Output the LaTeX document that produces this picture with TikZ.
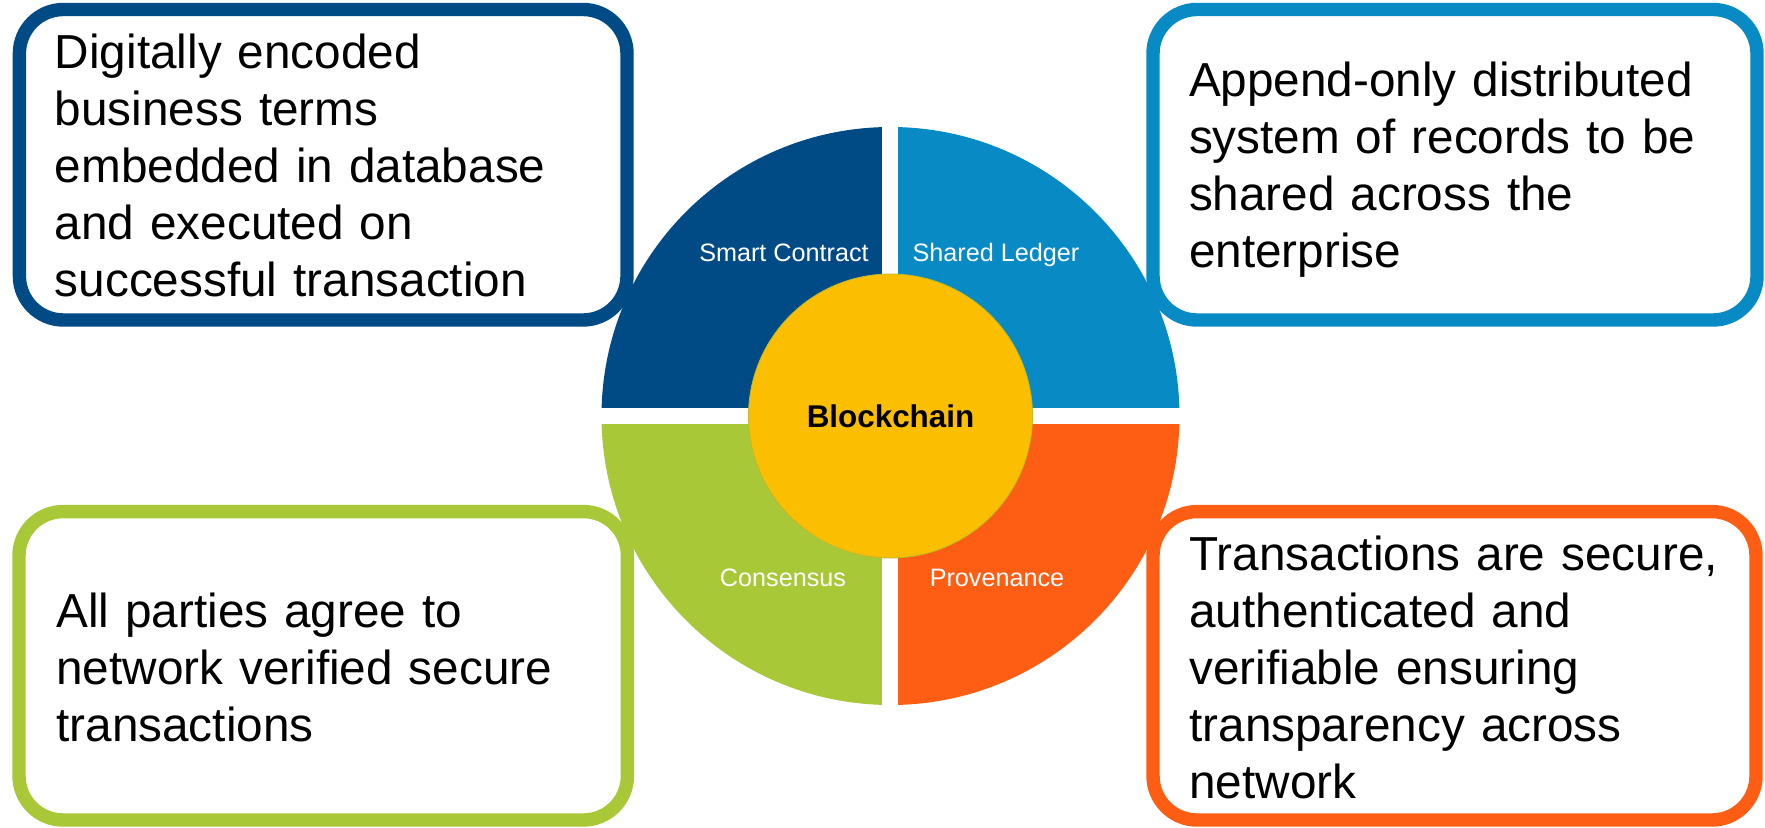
\documentclass[tikz,border=0pt]{standalone}
\usepackage{fontspec}
\setmainfont{Liberation Sans}
\definecolor{dblue}{RGB}{0,74,134}
\definecolor{lblue}{RGB}{8,139,197}
\definecolor{lgreen}{RGB}{169,200,56}
\definecolor{orng}{RGB}{253,94,20}
\definecolor{yell}{RGB}{252,190,0}
\definecolor{yedge}{RGB}{190,185,40}
\begin{document}
\begin{tikzpicture}[x=0.5pt,y=-0.5pt,
  infobox/.style={draw=#1, line width=6.7pt, rounded corners=22pt, fill=white, inner sep=0},
  boxtext/.style={anchor=base west, inner sep=0, text width=300pt, align=left,
    font=\fontsize{23.85}{28.5}\selectfont},
  qlabel/.style={anchor=base, inner sep=0, text=white, font=\fontsize{12.6}{14}\selectfont}]
\useasboundingbox (0,0) rectangle (1765,828);
\coordinate (c) at (890.5,416);
% quadrants
\begin{scope}\clip (c) rectangle (500,0); \fill[dblue] (c) circle[radius=144.5pt];\end{scope}
\begin{scope}\clip (c) rectangle (1300,0); \fill[lblue] (c) circle[radius=144.5pt];\end{scope}
\begin{scope}\clip (c) rectangle (500,828); \fill[lgreen] (c) circle[radius=144.5pt];\end{scope}
\begin{scope}\clip (c) rectangle (1300,828); \fill[orng] (c) circle[radius=144.5pt];\end{scope}
\fill[white] (881.7,100) rectangle (897.7,730);
\fill[white] (590,408) rectangle (1190,424);
\node[circle, fill=yell, draw=yedge, line width=0.4pt, minimum size=142pt, inner sep=0] (core) at (c) {};
\node[anchor=base, inner sep=0, font=\fontsize{15.7}{18}\selectfont\bfseries] (bc) at (890.5,427) {Blockchain};
\node[qlabel] (q1) at (784,262) {Smart Contract};
\node[qlabel] (q2) at (996,262) {Shared Ledger};
\node[qlabel] (q3) at (783,586) {Consensus};
\node[qlabel] (q4) at (997,586) {Provenance};
% boxes
\node[infobox=dblue, minimum width=303.8pt, minimum height=155.25pt] (b1) at (323.2,164.75) {};
\node[infobox=lblue, minimum width=302pt, minimum height=155.25pt] (b2) at (1455,164.75) {};
\node[infobox=lgreen, minimum width=304.2pt, minimum height=154.2pt] (b3) at (323.2,665.8) {};
\node[infobox=orng, minimum width=301.5pt, minimum height=154.2pt] (b4) at (1454.5,665.8) {};
% texts
\node[boxtext] (t1) at (54.5,68.3) {Digitally encoded\\business terms\\embedded in database\\and executed on\\successful transaction};
\node[boxtext] (t2) at (1188.6,96.7) {Append-only distributed\\system of records to be\\shared across the\\enterprise};
\node[boxtext] (t3) at (56,627.3) {All parties agree to\\network verified secure\\transactions};
\node[boxtext] (t4) at (1189,570) {Transactions are secure,\\authenticated and\\verifiable ensuring\\transparency across\\network};
\end{tikzpicture}
\end{document}
